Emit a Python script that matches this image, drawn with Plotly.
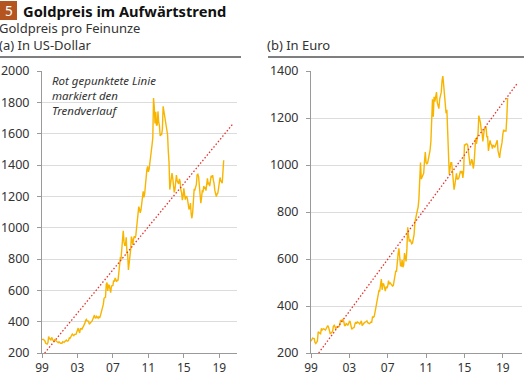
import plotly.graph_objects as go

# ---------------- data ----------------
start_year = 1999
usd_gold = [
    287, 287, 286, 282, 277, 262, 256, 257, 265, 305, 293, 283,   # 1999
    284, 300, 286, 280, 275, 285, 282, 274, 273, 270, 266, 272,   # 2000
    265, 262, 263, 261, 272, 270, 268, 273, 283, 283, 276, 276,   # 2001
    282, 296, 294, 303, 314, 321, 314, 310, 319, 317, 319, 333,   # 2002
    357, 359, 340, 328, 355, 356, 351, 360, 379, 379, 389, 407,   # 2003
    414, 405, 406, 404, 384, 392, 398, 400, 406, 420, 439, 442,   # 2004
    424, 423, 434, 429, 422, 431, 424, 437, 456, 470, 476, 510,   # 2005
    549, 555, 557, 640, 650, 596, 633, 632, 598, 585, 627, 629,   # 2006
    631, 664, 655, 679, 667, 655, 665, 665, 712, 754, 806, 803,   # 2007
    889, 922, 980, 909, 888, 889, 939, 839, 829, 730, 760, 816,   # 2008
    858, 943, 924, 890, 928, 945, 934, 949, 996, 1043, 1127, 1134,  # 2009
    1118, 1095, 1113, 1148, 1205, 1232, 1193, 1215, 1271, 1343, 1370, 1391,  # 2010
    1356, 1372, 1424, 1473, 1510, 1529, 1572, 1828, 1772, 1665, 1739, 1652,  # 2011
    1656, 1742, 1673, 1650, 1585, 1596, 1594, 1630, 1775, 1747, 1721, 1688,  # 2012
    1671, 1628, 1593, 1487, 1414, 1243, 1286, 1347, 1349, 1316, 1275, 1225,  # 2013
    1244, 1300, 1336, 1299, 1287, 1279, 1311, 1296, 1239, 1222, 1176, 1200,  # 2014
    1251, 1227, 1179, 1198, 1199, 1181, 1131, 1117, 1125, 1157, 1086, 1060,  # 2015
    1097, 1199, 1246, 1242, 1260, 1276, 1337, 1341, 1326, 1267, 1238, 1157,  # 2016
    1192, 1234, 1231, 1266, 1246, 1260, 1236, 1283, 1315, 1280, 1283, 1265,  # 2017
    1331, 1331, 1325, 1335, 1303, 1282, 1238, 1202, 1199, 1215, 1220, 1250,  # 2018
    1291, 1320, 1300, 1286, 1284, 1359, 1430,                             # 2019
]
eur_gold = [
    250, 256, 263, 262, 261, 245, 240, 245, 250, 290, 287, 282,   # 1999
    282, 305, 298, 302, 303, 300, 298, 304, 313, 317, 310, 301,   # 2000
    283, 284, 288, 292, 314, 318, 312, 302, 311, 312, 310, 312,   # 2001
    320, 340, 337, 340, 343, 334, 317, 317, 325, 323, 317, 324,   # 2002
    335, 334, 315, 301, 305, 306, 309, 324, 332, 325, 332, 330,   # 2003
    328, 322, 331, 337, 317, 323, 326, 330, 331, 335, 337, 329,   # 2004
    325, 325, 328, 332, 331, 355, 352, 355, 372, 391, 404, 431,   # 2005
    453, 465, 464, 495, 515, 469, 496, 493, 470, 463, 483, 476,   # 2006
    485, 508, 493, 500, 494, 488, 485, 487, 512, 531, 548, 548,   # 2007
    604, 623, 645, 580, 571, 570, 595, 565, 575, 625, 597, 590,   # 2008
    643, 735, 700, 674, 683, 676, 665, 668, 683, 705, 755, 780,   # 2009
    790, 806, 820, 855, 975, 1010, 940, 950, 960, 965, 1015, 1055,  # 2010
    1010, 1005, 1010, 1025, 1050, 1063, 1100, 1225, 1280, 1205, 1290, 1270,  # 2011
    1290, 1310, 1265, 1255, 1240, 1280, 1300, 1310, 1360, 1378, 1340, 1285,  # 2012
    1255, 1220, 1235, 1140, 1090, 960, 985, 1010, 1010, 965, 945, 895,   # 2013
    915, 950, 965, 940, 940, 945, 970, 975, 965, 975, 945, 975,   # 2014
    1085, 1085, 1090, 1090, 1085, 1060, 1030, 1000, 1005, 1025, 1015, 985,  # 2015
    1005, 1080, 1115, 1090, 1120, 1135, 1210, 1195, 1180, 1150, 1140, 1100,  # 2016
    1120, 1155, 1155, 1165, 1120, 1120, 1060, 1085, 1105, 1090, 1085, 1070,  # 2017
    1085, 1080, 1075, 1085, 1095, 1105, 1060, 1040, 1030, 1060, 1075, 1095,  # 2018
    1130, 1150, 1145, 1145, 1145, 1200, 1285,                             # 2019
]
usd_trend_x = [1999.3, 2020.5]
usd_trend_y = [200, 1660]
eur_trend_x = [1999.8, 2020.55]
eur_trend_y = [200, 1350]

tick_years = [1999, 2003, 2007, 2011, 2015, 2019]
tick_labels = ["99", "03", "07", "11", "15", "19"]
usd_yticks = [200, 400, 600, 800, 1000, 1200, 1400, 1600, 1800, 2000]
eur_yticks = [200, 400, 600, 800, 1000, 1200, 1400]

usd_x = [start_year + i / 12 for i in range(len(usd_gold))]
eur_x = [start_year + i / 12 for i in range(len(eur_gold))]

# ---------------- styles ----------------
GOLD = "#F8B500"
RED = "#E5322D"
TXT = "#333333"
GRID = "#DCDCDC"
AXIS = "#9A9A9A"
FONT = "Noto Sans"

fig = go.Figure()
fig.add_trace(go.Scatter(x=usd_x, y=usd_gold, mode="lines",
                         line=dict(color=GOLD, width=1.4), xaxis="x", yaxis="y"))
fig.add_trace(go.Scatter(x=usd_trend_x, y=usd_trend_y, mode="lines",
                         line=dict(color=RED, width=1.3, dash="1.5px,2px"), xaxis="x", yaxis="y"))
fig.add_trace(go.Scatter(x=eur_x, y=eur_gold, mode="lines",
                         line=dict(color=GOLD, width=1.4), xaxis="x2", yaxis="y2"))
fig.add_trace(go.Scatter(x=eur_trend_x, y=eur_trend_y, mode="lines",
                         line=dict(color=RED, width=1.3, dash="1.5px,2px"), xaxis="x2", yaxis="y2"))

xcommon = dict(range=[1999, 2021], tickvals=tick_years, ticktext=tick_labels,
               showgrid=False, showline=True, linecolor=AXIS, linewidth=1,
               ticks="outside", ticklen=4, tickcolor=AXIS, zeroline=False,
               automargin=False, ticklabelstandoff=0,
               tickfont=dict(family=FONT, size=12, color=TXT))
ycommon = dict(showgrid=True, gridcolor=GRID, gridwidth=1, showline=True,
               linecolor=AXIS, linewidth=1, ticks="outside", ticklen=4,
               tickcolor=AXIS, zeroline=False, automargin=False,
               ticklabelstandoff=5,
               tickfont=dict(family=FONT, size=12.5, color=TXT))

ydom = [22 / 375, 304 / 375]
fig.update_layout(
    width=524, height=375, margin=dict(l=0, r=0, t=0, b=0, pad=0),
    paper_bgcolor="white", plot_bgcolor="white", showlegend=False,
    xaxis=dict(domain=[42 / 524, 237 / 524], anchor="y", **xcommon),
    yaxis=dict(domain=ydom, anchor="x", range=[200, 2000], tickvals=usd_yticks, **ycommon),
    xaxis2=dict(domain=[311 / 524, 522 / 524], anchor="y2", **xcommon),
    yaxis2=dict(domain=ydom, anchor="x2", range=[200, 1400], tickvals=eur_yticks, **ycommon),
)

shapes = [
    dict(type="rect", xref="paper", yref="paper", x0=0, x1=17 / 524,
         y0=1 - 20 / 375, y1=1 - 1 / 375, fillcolor="#B4541E", line=dict(width=0)),
    dict(type="line", xref="paper", yref="paper", x0=0, x1=241 / 524,
         y0=1 - 57 / 375, y1=1 - 57 / 375, line=dict(color="#555555", width=1.5)),
    dict(type="line", xref="paper", yref="paper", x0=268 / 524, x1=1,
         y0=1 - 57 / 375, y1=1 - 57 / 375, line=dict(color="#555555", width=1.5)),
]
fig.update_layout(shapes=shapes)

def ann(text, x, y, size, bold=False, italic=False, color=TXT, xanchor="left"):
    t = text
    if bold:
        t = "<b>" + t + "</b>"
    if italic:
        t = "<i>" + t + "</i>"
    return dict(text=t, x=x / 524, y=1 - y / 375, xref="paper", yref="paper",
                xanchor=xanchor, yanchor="middle", showarrow=False, borderpad=0,
                font=dict(family=FONT, size=size, color=color), align="left")

annotations = [
    ann("5", 8.5, 10.5, 13.5, color="white", xanchor="center"),
    ann("Goldpreis im Aufwärtstrend", 22, 10.5, 14.7, bold=True, color="#111111"),
    ann("Goldpreis pro Feinunze", -2, 28.5, 13),
    ann("(a) In US-Dollar", -2, 45, 13),
    ann("(b) In Euro", 266, 45, 13),
    ann("<i>Rot gepunktete Linie<br>markiert den<br>Trendverlauf</i>", 51, 95.5, 11.5),
]
fig.update_layout(annotations=annotations)

fig.write_html("out.html", config={"displayModeBar": False},
               post_script="document.body.style.margin='0px';document.body.style.overflow='hidden';")
